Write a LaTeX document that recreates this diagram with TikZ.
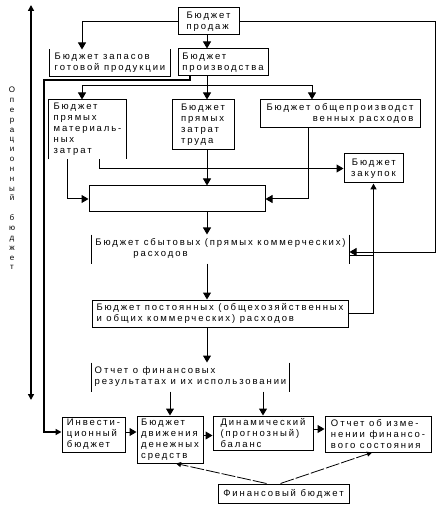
\documentclass[tikz,border=0pt]{standalone}
\usepackage{fontspec}
\setmainfont{Liberation Sans}[LetterSpace=20]
\usetikzlibrary{arrows.meta}

\begin{document}
\begin{tikzpicture}[x=1pt, y=-1pt,
  box/.style={draw, line width=1pt, inner sep=0pt, align=left,
              font=\fontsize{9.5}{11}\selectfont},
  openbox/.style={box, draw=none},
  arr/.style={line width=1pt, -{Triangle[length=7pt,width=8pt]}},
  rail/.style={line width=1.8pt},
  finarr/.style={line width=0.8pt, dash pattern=on 14pt off 2pt,
                 -{Triangle[length=5pt,width=5pt]}},
  vlabel/.style={inner sep=0pt, align=center, font=\fontsize{8}{9.85}\selectfont},
]
\useasboundingbox (0,0) rectangle (441,510);

\coordinate (spine) at (207,0);

\node[vlabel] (oplabel) at (12,178.5) {О\\п\\е\\р\\а\\ц\\и\\о\\н\\н\\ы\\й\\ \\б\\ю\\д\\ж\\е\\т};
\coordinate (optop) at (31,5);
\coordinate (opbot) at (31,400);
\draw[rail, {Triangle[length=6pt,width=6pt]}-{Triangle[length=6pt,width=6pt]}] (optop) -- (opbot);

\node[box, minimum width=61, minimum height=27] (sales) at (208.5,21.5) {Бюджет\\продаж};
\node[openbox, minimum width=120, minimum height=26] (stock) at (110,63) {Бюджет запасов\\готовой продукции};
\node[box, minimum width=90, minimum height=27] (prod) at (223,62.5) {Бюджет\\производства};
\node[openbox, minimum width=77, minimum height=59] (mat) at (87.5,129.5) {Бюджет\\прямых\\материаль-\\ных\\затрат};
\node[box, minimum width=62, minimum height=50] (labor) at (203,125) {Бюджет\\прямых\\затрат\\труда};
\node[box, align=right, minimum width=160, minimum height=28] (overhead) at (340,114) {Бюджет общепроизводст\\венных расходов};
\node[box, align=right, minimum width=59, minimum height=29] (purch) at (373.5,168.5) {Бюджет\\закупок};
\node[box, minimum width=176, minimum height=26] (blank) at (177,199) {};
\node[openbox, minimum width=257, minimum height=28] (salesexp) at (220.5,249) {Бюджет сбытовых (прямых коммерческих)\\\hspace*{38pt}расходов};
\node[box, minimum width=256, minimum height=27] (fixed) at (220,313.5) {Бюджет постоянных (общехозяйственных\\и общих коммерческих) расходов};
\node[openbox, minimum width=197, minimum height=28] (result) at (190.5,377) {Отчет о финансовых\\результатах и их использовании};
\node[box, minimum width=63, minimum height=35] (invest) at (93.5,434.5) {Инвести-\\ционный\\бюджет};
\node[box, minimum width=66, minimum height=47] (cash) at (170,439.5) {Бюджет\\движения\\денежных\\средств};
\node[box, minimum width=100, minimum height=34] (dyn) at (263,433) {Динамический\\(прогнозный)\\баланс};
\node[box, minimum width=106, minimum height=36] (change) at (378,434) {Отчет об изме-\\нении финансо-\\вого состояния};
\node[box, minimum width=131, minimum height=19] (fin) at (283.5,493.5) {Финансовый бюджет};

% open frames
\draw[line width=1pt] (stock.north west) -- (stock.south west) -- (stock.south east) -- (stock.north east);
\draw[line width=1pt] (mat.south west) -- (mat.north west) -- (mat.north east) -- (mat.south east);
\draw[line width=1pt] (salesexp.north west) -- (salesexp.south west);
\draw[line width=1pt] (salesexp.north east) -- (salesexp.south east);
\draw[line width=1pt] (result.north west) -- (result.south west);
\draw[line width=1pt] (result.north east) -- (result.south east);

\draw[arr] (sales.west) -| ([xshift=-28]stock.north);
\draw[arr] (sales.south -| spine) -- (spine |- prod.north);
\coordinate (railR) at (435,252);
\draw[arr] (sales.east) -| (railR) -- (railR -| salesexp.east);

\draw[line width=1pt] (prod.south -| spine) -- ++(0,9) coordinate (split);
\draw[arr] (split) -| ([xshift=-5.5]mat.north);
\draw[arr] (split) -- (spine |- labor.north);
\draw[arr] (split) -| ([xshift=-28]overhead.north);

\coordinate (railL) at (44,80);
\draw[line width=1.4pt, -{Triangle[length=6pt,width=6pt]}] ([xshift=-33]prod.south) |- (railL) |- ([yshift=2.5]invest.west);

\draw[arr] ([xshift=11.5]mat.south) |- (purch.west);
\draw[arr] ([xshift=-20.5]mat.south) |- (blank.west);
\draw[arr] ([xshift=-32]overhead.south) |- (blank.east);
\draw[arr] (labor.south -| spine) -- (spine |- blank.north);
\draw[arr] (blank.south -| spine) -- (spine |- salesexp.north);
\draw[arr] (salesexp.south -| spine) -- (spine |- fixed.north);
\draw[arr] (fixed.south -| spine) -- (spine |- result.north);

\draw[rail, -{Triangle[length=6pt,width=6pt]}] (fixed.east) -| (purch.south);
\draw[line width=1pt] ([yshift=-6]salesexp.east) -- ([yshift=-6]salesexp.east -| purch.south);

\draw[arr] (result.south -| cash.north) -- (cash.north);
\draw[arr] (result.south -| dyn.north) -- (dyn.north);

\draw[arr] ([yshift=2.5]invest.east) -- ([yshift=2.5]invest.east -| cash.west);
\draw[arr] ([yshift=4]cash.east) -- ([yshift=4]cash.east -| dyn.west);
\draw[arr] ([yshift=4]dyn.east) -- ([yshift=4]dyn.east -| change.west);

\draw[finarr] ([xshift=-17]fin.north) -- ([xshift=6]cash.south);
\draw[finarr] ([xshift=-3]fin.north) -- ([xshift=-6]change.south);

\end{tikzpicture}
\end{document}
